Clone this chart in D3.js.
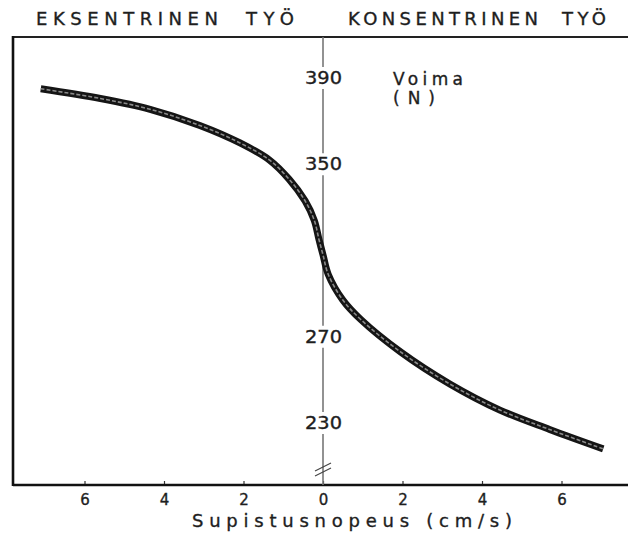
<!DOCTYPE html>
<html>
<head>
<meta charset="utf-8">
<script src="https://cdn.jsdelivr.net/npm/d3@7"></script>
<style>
  html, body { margin: 0; padding: 0; background: #fff; }
  svg { display: block; }
  text { font-family: "DejaVu Sans", sans-serif; fill: #1e1e1e; stroke: #1e1e1e; stroke-width: 0.35; }
</style>
</head>
<body>
<svg id="chart" width="628" height="535"></svg>
<script>
// Contraction velocity (cm/s): negative = eccentric (lengthening), positive = concentric
const velocity = [-7.1, -5.6, -4.35, -3.1, -2.1, -1.35, -0.85, -0.45, -0.22, -0.1, 0, 0.13, 0.5, 0.95, 1.95, 3.2, 4.45, 5.7, 7.05];
// Force (N) at each velocity
const force    = [385, 380.5, 375.5, 368, 360, 352, 343, 333, 324, 315, 308, 299, 287, 278, 263, 248, 236, 227, 218];

const xTicks = [-6, -4, -2, 0, 2, 4, 6];
const yTicks = [230, 270, 350, 390];

const svg = d3.select("#chart");

const frame = { left: 13, right: 628, top: 37, bottom: 485 };

const x = d3.scaleLinear().domain([0, 6]).range([323, 561.5]);
const y = d3.scaleLinear().domain([230, 390]).range([423, 78]);

// Frame: top rule, left rule
svg.append("line")
  .attr("x1", frame.left).attr("x2", frame.right)
  .attr("y1", frame.top).attr("y2", frame.top)
  .attr("stroke", "#222").attr("stroke-width", 2);
svg.append("line")
  .attr("x1", frame.left).attr("x2", frame.left)
  .attr("y1", frame.top - 1).attr("y2", frame.bottom + 1)
  .attr("stroke", "#111").attr("stroke-width", 2.6);

// Bottom velocity axis
const xAxis = d3.axisBottom(x)
  .tickValues(xTicks)
  .tickSizeInner(-4)
  .tickSizeOuter(0)
  .tickPadding(9)
  .tickFormat(d => Math.abs(d));
const gx = svg.append("g")
  .attr("transform", `translate(0,${frame.bottom})`)
  .call(xAxis);
gx.select(".domain").remove();
gx.selectAll(".tick line").attr("stroke", "#333").attr("stroke-width", 1.2);
gx.selectAll(".tick text")
  .attr("font-size", 15)
  .attr("font-family", "DejaVu Sans")
  .attr("fill", "#1e1e1e");
svg.append("line")
  .attr("x1", frame.left).attr("x2", frame.right)
  .attr("y1", frame.bottom).attr("y2", frame.bottom)
  .attr("stroke", "#111").attr("stroke-width", 2.6);

// Central force axis at zero velocity
const x0 = x(0);
svg.append("line")
  .attr("x1", x0).attr("x2", x0)
  .attr("y1", frame.top).attr("y2", frame.bottom)
  .attr("stroke", "#777").attr("stroke-width", 1.6);

// Axis break marks near the bottom
const brk = svg.append("g").attr("stroke", "#444").attr("stroke-width", 1.2);
[0, 5].forEach(dy => {
  brk.append("line")
    .attr("x1", x0 - 8).attr("y1", 471 + dy)
    .attr("x2", x0 + 8).attr("y2", 463 + dy);
});

// Force tick labels sit on the axis with a gap in the line
const yl = svg.append("g");
yTicks.forEach(v => {
  yl.append("rect")
    .attr("x", x0 - 20).attr("y", y(v) - 11)
    .attr("width", 40).attr("height", 22)
    .attr("fill", "#fff");
  yl.append("text")
    .attr("x", x0 - 18).attr("y", y(v) + 6)
    .attr("font-size", 17)
    .attr("textLength", 37).attr("lengthAdjust", "spacingAndGlyphs")
    .text(v);
});

// Force–velocity curve: dark outline with a lighter core
const line = d3.line()
  .x((d, i) => x(velocity[i]))
  .y(d => y(d))
  .curve(d3.curveCatmullRom.alpha(0.5));
svg.append("path")
  .attr("d", line(force))
  .attr("fill", "none")
  .attr("stroke", "#151515")
  .attr("stroke-width", 7)
  .attr("stroke-linecap", "butt");
svg.append("path")
  .attr("d", line(force))
  .attr("fill", "none")
  .attr("stroke", "#8a8a8a")
  .attr("stroke-width", 1.6)
  .attr("stroke-dasharray", "4 2");

// Unit label
svg.append("text").attr("x", 393).attr("y", 85)
  .attr("font-size", 17).attr("textLength", 70).attr("lengthAdjust", "spacing")
  .text("Voima");
svg.append("text").attr("x", 393).attr("y", 104)
  .attr("font-size", 17).attr("textLength", 42).attr("lengthAdjust", "spacing")
  .text("(N)");

// Header labels
const header = [
  { t: "EKSENTRINEN", x: 36, w: 182 },
  { t: "TYÖ", x: 246, w: 48 },
  { t: "KONSENTRINEN", x: 348, w: 190 },
  { t: "TYÖ", x: 562, w: 44 }
];
svg.append("g").selectAll("text").data(header).join("text")
  .attr("x", d => d.x).attr("y", 25)
  .attr("font-size", 18)
  .attr("textLength", d => d.w).attr("lengthAdjust", "spacing")
  .text(d => d.t);

// Axis title
svg.append("text")
  .attr("x", 192).attr("y", 527)
  .attr("font-size", 18)
  .attr("textLength", 320).attr("lengthAdjust", "spacing")
  .text("Supistusnopeus (cm/s)");
</script>
</body>
</html>
